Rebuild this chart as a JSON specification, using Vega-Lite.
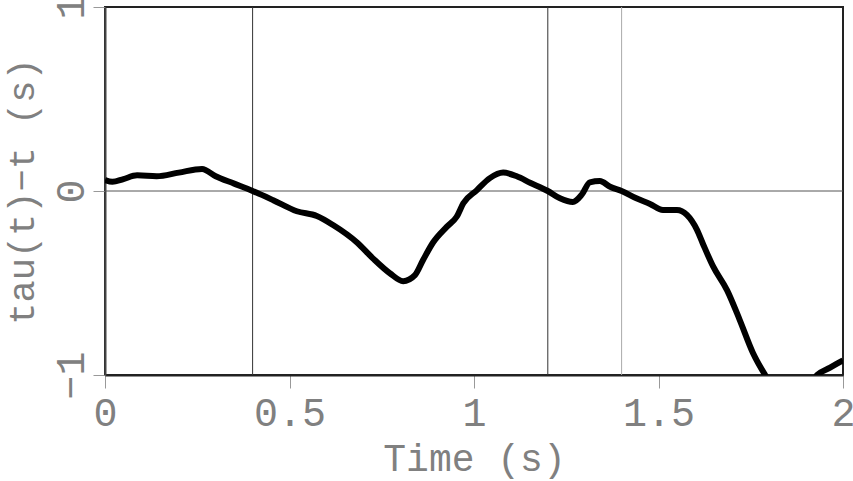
{
  "$schema": "https://vega.github.io/schema/vega-lite/v6.json",
  "autosize": "none",
  "width": 738,
  "height": 368,
  "padding": {"left": 105, "top": 7, "right": 10, "bottom": 106},
  "background": "white",
  "config": {
    "view": {"stroke": "#222222", "strokeWidth": 2},
    "font": "Liberation Mono"
  },
  "datasets": {
    "curve": [
      {"t": 0.0, "v": 0.06}, {"t": 0.02, "v": 0.05}, {"t": 0.05, "v": 0.065},
      {"t": 0.087, "v": 0.085}, {"t": 0.14, "v": 0.08}, {"t": 0.2, "v": 0.1},
      {"t": 0.263, "v": 0.12}, {"t": 0.3, "v": 0.08}, {"t": 0.35, "v": 0.04},
      {"t": 0.4, "v": 0.0}, {"t": 0.456, "v": -0.05}, {"t": 0.52, "v": -0.11},
      {"t": 0.574, "v": -0.136}, {"t": 0.618, "v": -0.185}, {"t": 0.683, "v": -0.28},
      {"t": 0.726, "v": -0.366}, {"t": 0.772, "v": -0.447}, {"t": 0.808, "v": -0.49},
      {"t": 0.84, "v": -0.457}, {"t": 0.862, "v": -0.375}, {"t": 0.889, "v": -0.28},
      {"t": 0.926, "v": -0.195}, {"t": 0.953, "v": -0.14}, {"t": 0.971, "v": -0.067},
      {"t": 1.008, "v": 0.005}, {"t": 1.043, "v": 0.07}, {"t": 1.079, "v": 0.1},
      {"t": 1.116, "v": 0.08}, {"t": 1.152, "v": 0.045}, {"t": 1.2, "v": 0.0},
      {"t": 1.233, "v": -0.04}, {"t": 1.268, "v": -0.06}, {"t": 1.292, "v": -0.02},
      {"t": 1.314, "v": 0.047}, {"t": 1.341, "v": 0.054}, {"t": 1.369, "v": 0.023},
      {"t": 1.4, "v": 0.0}, {"t": 1.44, "v": -0.04}, {"t": 1.477, "v": -0.07},
      {"t": 1.512, "v": -0.103}, {"t": 1.55, "v": -0.103}, {"t": 1.577, "v": -0.13},
      {"t": 1.604, "v": -0.21}, {"t": 1.62, "v": -0.285}, {"t": 1.648, "v": -0.41},
      {"t": 1.686, "v": -0.54}, {"t": 1.72, "v": -0.7}, {"t": 1.756, "v": -0.88},
      {"t": 1.789, "v": -1.0}, {"t": 1.83, "v": -1.12}, {"t": 1.88, "v": -1.15},
      {"t": 1.93, "v": -1.0}, {"t": 1.965, "v": -0.96}, {"t": 2.0, "v": -0.92}
    ],
    "darkrules": [{"t": 0.4}, {"t": 1.2}],
    "lightrules": [{"t": 1.4}],
    "zero": [{"v": 0}]
  },
  "layer": [
    {
      "data": {"name": "zero"},
      "mark": {"type": "rule", "color": "#555555", "strokeWidth": 1},
      "encoding": {
        "y": {"field": "v", "type": "quantitative", "scale": {"domain": [-1, 1]}}
      }
    },
    {
      "data": {"name": "darkrules"},
      "mark": {"type": "rule", "color": "#333333", "strokeWidth": 1},
      "encoding": {
        "x": {"field": "t", "type": "quantitative", "scale": {"domain": [0, 2]}}
      }
    },
    {
      "data": {"name": "lightrules"},
      "mark": {"type": "rule", "color": "#aaaaaa", "strokeWidth": 1},
      "encoding": {
        "x": {"field": "t", "type": "quantitative", "scale": {"domain": [0, 2]}}
      }
    },
    {
      "data": {"name": "curve"},
      "mark": {"type": "line", "color": "black", "strokeWidth": 6, "clip": true, "interpolate": "monotone", "strokeCap": "butt"},
      "encoding": {
        "x": {
          "field": "t", "type": "quantitative",
          "scale": {"domain": [0, 2], "nice": false, "zero": false},
          "axis": {
            "title": "Time (s)",
            "values": [0, 0.5, 1, 1.5, 2],
            "format": "~g",
            "grid": false,
            "domainColor": "#222222", "domainWidth": 2,
            "tickColor": "#999999", "tickSize": 13, "tickWidth": 1,
            "labelFont": "Liberation Mono", "labelFontSize": 40, "labelColor": "#808080",
            "labelFontWeight": "normal",
            "labelBaseline": "alphabetic", "labelPadding": 37,
            "labelFlush": false, "labelOverlap": false,
            "titleFont": "Liberation Mono", "titleFontSize": 38, "titleColor": "#808080",
            "titleFontWeight": "normal",
            "titleX": 369, "titleY": 95, "titleAlign": "center", "titleBaseline": "alphabetic", "titleAnchor": "middle"
          }
        },
        "y": {
          "field": "v", "type": "quantitative",
          "scale": {"domain": [-1, 1], "nice": false, "zero": false},
          "axis": {
            "title": "tau(t)−t (s)",
            "values": [-1, 0, 1],
            "format": "~g",
            "grid": false,
            "domainColor": "#444444", "domainWidth": 2,
            "tickColor": "#999999", "tickSize": 12, "tickWidth": 1,
            "labelFont": "Liberation Mono", "labelFontSize": 40, "labelColor": "#808080",
            "labelFontWeight": "normal",
            "labelAngle": -90, "labelAlign": "center", "labelBaseline": "alphabetic",
            "labelPadding": 10, "labelFlush": false, "labelOverlap": false,
            "titleFont": "Liberation Mono", "titleFontSize": 37, "titleColor": "#808080",
            "titleFontWeight": "normal",
            "titleAngle": -90, "titleX": -72, "titleY": 184, "titleAlign": "center", "titleBaseline": "alphabetic"
          }
        }
      }
    }
  ]
}
